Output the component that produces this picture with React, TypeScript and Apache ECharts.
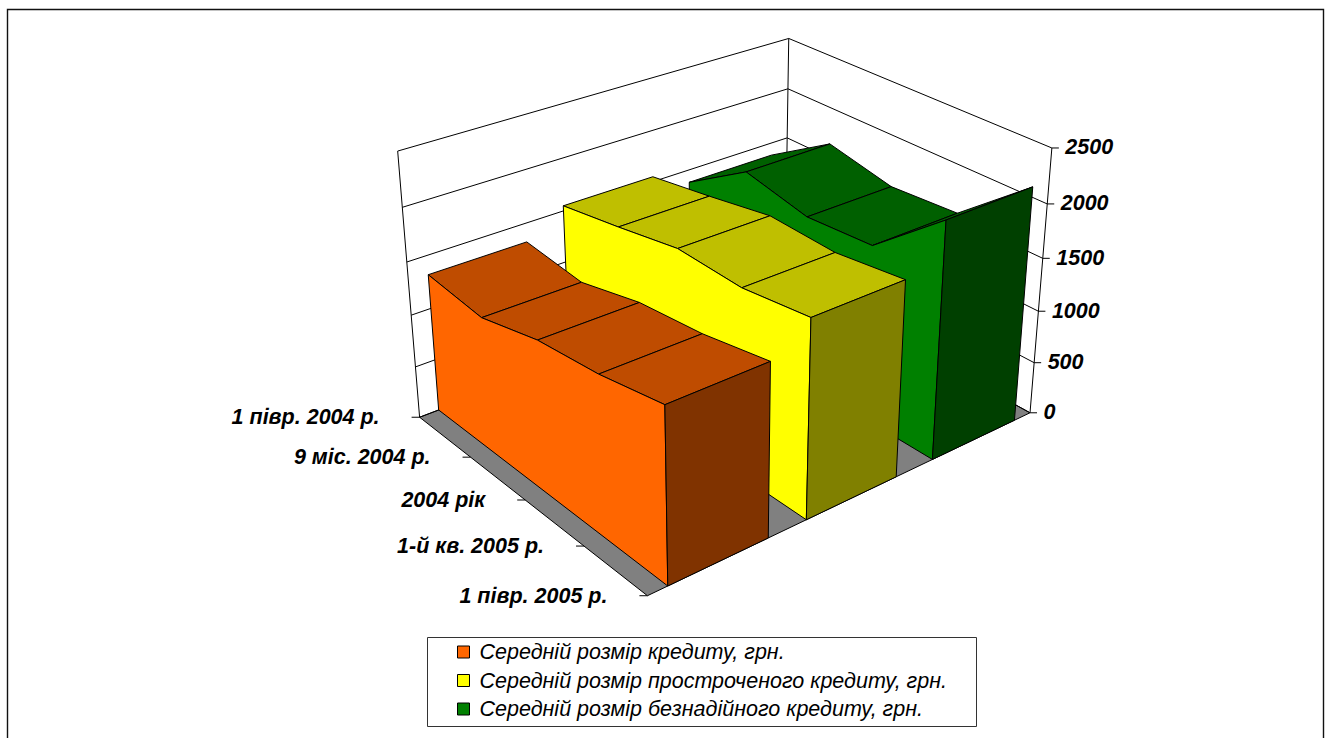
import React, { useEffect, useRef } from "react";
import * as echarts from "echarts";

const categories = ["1 півр. 2004 р.", "9 міс. 2004 р.", "2004 рік", "1-й кв. 2005 р.", "1 півр. 2005 р."];
const valueTicks = [0, 500, 1000, 1500, 2000, 2500];
const creditValues = [1320, 1256, 1403, 1467, 1584];
const overdueValues = [1549, 1651, 1765, 1739, 1820];
const badValues = [1375, 1765, 1630, 1672, 2210];

const calib: number[][] = [
  [0,0,0,419,417],[1,0,0,647,596],[1,1,0,1030,413],
  [0,0,0,419,417],[1,0,0,647,596],[1,1,0,1030,413],
  [0,0,0,419,417],[1,0,0,647,596],[1,1,0,1030,413],
  [0,0,1,397.3,151],[1,1,1,1052.3,147.3],[0,1,1,788.3,39.3],
  [0,0,.8,403,207],[0,0,.6,406.7,263],[0,0,.4,410.7,315.7],[0,0,.2,415.7,367],
  [1,1,.8,1046.7,203],[1,1,.6,1043,259],[1,1,.4,1038,311],[1,1,.2,1034,363],
  [0,1,.8,788,89],[0,1,.6,788,137],
  [.25,0,0,471,457],[.5,0,0,527,499],[.75,0,0,585,546],
];
function solve(A:number[][],b:number[]){const n=b.length;const M=A.map((r,i)=>[...r,b[i]]);
  for(let c=0;c<n;c++){let p=c;for(let r=c+1;r<n;r++)if(Math.abs(M[r][c])>Math.abs(M[p][c]))p=r;[M[c],M[p]]=[M[p],M[c]];
    for(let r=0;r<n;r++)if(r!==c){const f=M[r][c]/M[c][c];for(let k=c;k<=n;k++)M[r][k]-=f*M[c][k];}}
  return M.map((r,i)=>r[n]/r[i]);}
function fit(){const A:number[][]=Array.from({length:11},()=>Array(11).fill(0));const b=Array(11).fill(0);
  const add=(row:number[],t:number)=>{for(let i=0;i<11;i++){b[i]+=row[i]*t;for(let j=0;j<11;j++)A[i][j]+=row[i]*row[j];}};
  for(const [u,v,w,px,py] of calib){const x=px/1000,y=py/1000;
    add([u,v,w,1,0,0,0,0,-x*u,-x*v,-x*w],x);add([0,0,0,0,u,v,w,1,-y*u,-y*v,-y*w],y);}
  return solve(A,b);}
const m=fit();
const P=(u:number,v:number,w:number)=>{const d=m[8]*u+m[9]*v+m[10]*w+1;return [1000*(m[0]*u+m[1]*v+m[2]*w+m[3])/d,1000*(m[4]*u+m[5]*v+m[6]*w+m[7])/d];};

const seriesDefs=[
  {name:"Середній розмір безнадійного кредиту, грн.",values:badValues,band:[0.715,0.953],front:"#008000",top:"#006000",side:"#004000"},
  {name:"Середній розмір простроченого кредиту, грн.",values:overdueValues,band:[0.379,0.615],front:"#FFFF00",top:"#BFBF00",side:"#808000"},
  {name:"Середній розмір кредиту, грн.",values:creditValues,band:[0.046,0.284],front:"#FF6600",top:"#BF4C00",side:"#803300"},
];
const F="Liberation Sans";
const AXIS_FONT=`italic bold 21.5px "${F}"`;
const poly=(pts:number[][],fill:string)=>({type:"polygon",shape:{points:pts},style:{fill,stroke:"#000",lineWidth:1,lineJoin:"round"}});
const line=(a:number[],b:number[])=>({type:"line",shape:{x1:a[0],y1:a[1],x2:b[0],y2:b[1]},style:{stroke:"#000",lineWidth:1,fill:"none"}});

function renderFrame(){
  const ch:any[]=[];
  ch.push({type:"rect",shape:{x:7.5,y:9.5,width:1316,height:800},style:{fill:"#fff",stroke:"#111",lineWidth:1.4}});
  ch.push({type:"rect",shape:{x:427.5,y:637.5,width:549,height:89},style:{fill:"#fff",stroke:"#333",lineWidth:1}});
  ch.push(poly([P(0,0,0),P(1,0,0),P(1,1,0),P(0,1,0)],"#808080"));
  for(const t of valueTicks){const w=t/2500;
    ch.push(line(P(0,0,w),P(0,1,w)));ch.push(line(P(0,1,w),P(1,1,w)));
    const a=P(1,1,w);ch.push(line(a,[a[0]+7,a[1]]));
    ch.push({type:"text",x:a[0]+13.5,y:a[1]-0.5,style:{text:String(t),fill:"#000",font:AXIS_FONT,align:"left",verticalAlign:"middle"}});}
  ch.push(line(P(0,0,0),P(0,0,1)));ch.push(line(P(0,1,0),P(0,1,1)));ch.push(line(P(1,1,0),P(1,1,1)));
  categories.forEach((c,i)=>{const a=P(i/4,0,0);ch.push(line(a,[a[0]-8,a[1]]));
    ch.push({type:"text",x:a[0]-40,y:a[1],style:{text:c,fill:"#000",font:AXIS_FONT,align:"right",verticalAlign:"middle"}});});
  return {type:"group",children:ch};
}
const renderArea=(def:any)=>(params:any,api:any)=>{
  const i=api.value(0);const [v0,v1]=def.band;const n=def.values.length;const W=(k:number)=>def.values[k]/2500;const U=(k:number)=>k/(n-1);
  const ch:any[]=[];
  if(i<n-1)ch.push(poly([P(U(i),v0,W(i)),P(U(i+1),v0,W(i+1)),P(U(i+1),v1,W(i+1)),P(U(i),v1,W(i))],def.top));
  else{
    const pts=[P(0,v0,0),...def.values.map((_:number,k:number)=>P(U(k),v0,W(k))),P(1,v0,0)];
    ch.push(poly(pts,def.front));
    ch.push(poly([P(1,v0,0),P(1,v0,W(n-1)),P(1,v1,W(n-1)),P(1,v1,0)],def.side));
  }
  return {type:"group",children:ch};
};

export default function App(){
  const ref=useRef<HTMLDivElement>(null);
  useEffect(()=>{
    const chart=echarts.init(ref.current!,undefined,{renderer:"svg"});
    chart.setOption({
      animation:false,backgroundColor:"#fff",
      legend:{data:[...seriesDefs].reverse().map(s=>s.name),orient:"vertical",left:457,top:641,padding:0,itemWidth:12,itemHeight:12,itemGap:6.5,icon:"rect",
        selectedMode:false,itemStyle:{borderColor:"#000",borderWidth:1},textStyle:{fontFamily:F,fontStyle:"italic",fontSize:21.5,color:"#000",lineHeight:21,padding:[0,0,0,5]}},
      series:[
        {type:"custom",name:"frame",coordinateSystem:"none",silent:true,data:[[0]],renderItem:renderFrame,z:1},
        ...seriesDefs.map(d=>({type:"custom",name:d.name,coordinateSystem:"none",silent:true,itemStyle:{color:d.front},data:d.values.map((v,i)=>[i,v]),renderItem:renderArea(d),z:2})),
      ],
    });
    return ()=>chart.dispose();
  },[]);
  return <div ref={ref} style={{position:"absolute",left:0,top:0,width:1332,height:738}}/>;
}
